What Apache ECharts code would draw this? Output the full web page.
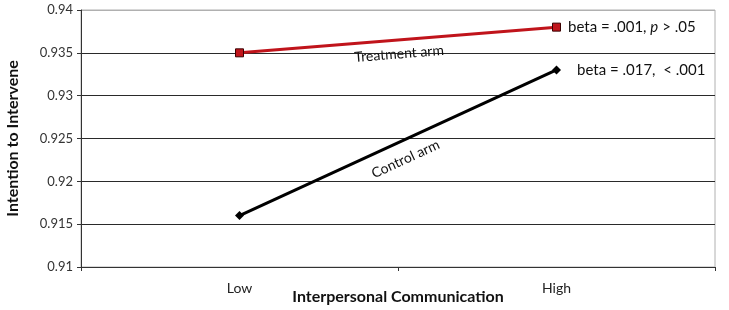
<!DOCTYPE html>
<html>
<head>
<meta charset="utf-8">
<script src="https://cdn.jsdelivr.net/npm/echarts@6/dist/echarts.min.js"></script>
<style>
  html, body { margin: 0; padding: 0; background: #fff; }
  #chart { width: 729px; height: 310px; }
</style>
</head>
<body>
<div id="chart"></div>
<script>
// data
const categories = ['Low', 'High'];
const treatment = [0.935, 0.938];
const control = [0.916, 0.933];
const yTicks = [0.91, 0.915, 0.92, 0.925, 0.93, 0.935, 0.94];
const treatmentNote = ['beta = .001, ', 'p', ' > .05'];
const controlNote = 'beta = .017,  < .001';

const font = 'Lato, "Open Sans", sans-serif';

const chart = echarts.init(document.getElementById('chart'));

// gridlines dark, top one light gray (acts as plot border)
const splitColors = yTicks.map((t, i) => i === yTicks.length - 1 ? '#b0b0b0' : '#2a2a2a');

chart.setOption({
    animation: false,
    grid: {
        left: 81, right: 14, top: 10, bottom: 43,
        containLabel: false,
        outerBoundsMode: 'none',
        show: true,
        borderColor: '#b0b0b0',
        borderWidth: 1
    },
    xAxis: {
        type: 'category',
        data: categories,
        boundaryGap: true,
        name: 'Interpersonal Communication',
        nameLocation: 'middle',
        nameGap: 22,
        nameMoveOverlap: false,
        nameTextStyle: { fontFamily: font, fontWeight: 'bold', fontSize: 16, color: '#111' },
        axisLine: { lineStyle: { color: '#333', width: 1 } },
        axisTick: { show: true, length: 4, lineStyle: { color: '#333' } },
        axisLabel: { fontFamily: font, fontSize: 14, color: '#222', margin: 14 }
    },
    yAxis: {
        type: 'value',
        min: 0.91,
        max: 0.94,
        interval: 0.005,
        name: 'Intention to Intervene',
        nameLocation: 'middle',
        nameGap: 60,
        nameMoveOverlap: false,
        nameTextStyle: { fontFamily: font, fontWeight: 'bold', fontSize: 16, color: '#111' },
        axisLine: { show: true, lineStyle: { color: '#333', width: 1 } },
        axisTick: { show: true, length: 4, lineStyle: { color: '#333' } },
        axisLabel: {
            fontFamily: font, fontSize: 13, color: '#333', margin: 8,
            formatter: v => String(parseFloat(v.toFixed(3)))
        },
        splitLine: { show: true, lineStyle: { color: splitColors, width: 1 } }
    },
    series: [
        {
            name: 'Treatment arm',
            type: 'line',
            data: treatment.map((v, i) => i === treatment.length - 1 ? {
                value: v,
                label: {
                    show: true,
                    position: 'right',
                    distance: 7,
                    formatter: '{a|' + treatmentNote[0] + '}{i|' + treatmentNote[1] + '}{a|' + treatmentNote[2] + '}',
                    rich: {
                        a: { fontFamily: font, fontSize: 15, color: '#111' },
                        i: { fontFamily: font, fontSize: 15, color: '#111', fontStyle: 'italic' }
                    }
                }
            } : v),
            symbol: 'rect',
            symbolSize: 8,
            lineStyle: { color: '#c0141b', width: 3 },
            itemStyle: { color: '#c0141b', borderColor: '#3a0000', borderWidth: 1 },
            markLine: {
                silent: true,
                symbol: 'none',
                lineStyle: { width: 0, color: 'rgba(0,0,0,0)' },
                label: {
                    show: true,
                    position: 'insideMiddleBottom',
                    distance: 7,
                    formatter: 'Treatment arm',
                    fontFamily: font, fontSize: 14, color: '#111'
                },
                data: [[{ coord: [0, treatment[0]] }, { coord: [1, treatment[1]] }]]
            },
            z: 3
        },
        {
            name: 'Control arm',
            type: 'line',
            data: control.map((v, i) => i === control.length - 1 ? {
                value: v,
                label: {
                    show: true,
                    position: 'right',
                    distance: 16,
                    formatter: controlNote,
                    fontFamily: font, fontSize: 15, color: '#111'
                }
            } : v),
            symbol: 'diamond',
            symbolSize: 9,
            lineStyle: { color: '#000', width: 3 },
            itemStyle: { color: '#000' },
            markLine: {
                silent: true,
                symbol: 'none',
                lineStyle: { width: 0, color: 'rgba(0,0,0,0)' },
                label: {
                    show: true,
                    position: 'insideMiddleBottom',
                    distance: 11,
                    formatter: 'Control arm',
                    fontFamily: font, fontSize: 14, color: '#111'
                },
                data: [[{ coord: [0, control[0]] }, { coord: [1, control[1]] }]]
            },
            z: 3
        }
    ]
});
</script>
</body>
</html>
